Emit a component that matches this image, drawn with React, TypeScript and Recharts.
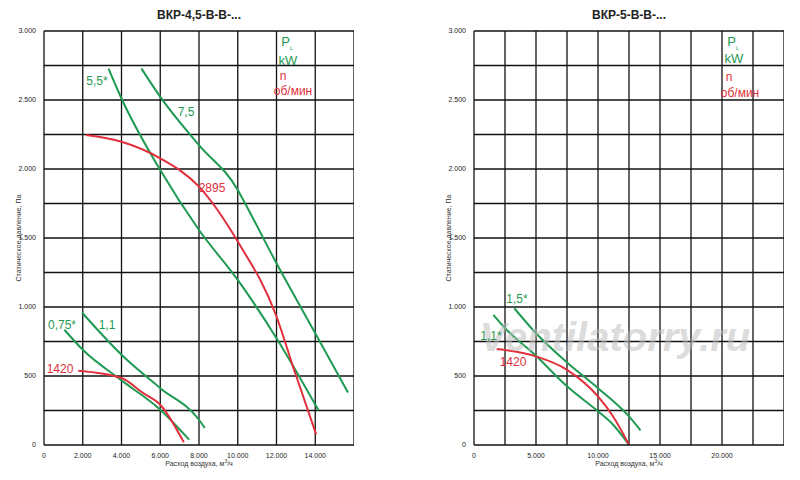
import { LineChart, Line, XAxis, YAxis, CartesianGrid } from "recharts";

const GREEN = "#1f9a52";
const RED = "#e0303c";

const yTicks = [0, 500, 1000, 1500, 2000, 2500, 3000];
const yGrid = [250, 500, 750, 1000, 1250, 1500, 1750, 2000, 2250, 2500, 2750];

// ВКР-4,5
const leftXTicks = [0, 2000, 4000, 6000, 8000, 10000, 12000, 14000];
const leftXGrid = [2000, 4000, 6000, 8000, 10000, 12000, 14000];
const kw55 = [
  { x: 3330, y: 2728 }, { x: 4000, y: 2511 }, { x: 6000, y: 1992 }, { x: 8000, y: 1558 },
  { x: 10000, y: 1196 }, { x: 12000, y: 774 }, { x: 14170, y: 251 },
];
const kw75 = [
  { x: 5030, y: 2728 }, { x: 6000, y: 2523 }, { x: 8000, y: 2173 }, { x: 10000, y: 1848 },
  { x: 10100, y: 1823 }, { x: 12000, y: 1317 }, { x: 14000, y: 810 }, { x: 15690, y: 381 },
];
const rpm2895 = [
  { x: 2160, y: 2246 }, { x: 4000, y: 2197 }, { x: 6000, y: 2077 }, { x: 8000, y: 1872 },
  { x: 10000, y: 1474 }, { x: 12000, y: 931 }, { x: 12850, y: 569 }, { x: 14050, y: 75 },
];
const kw075 = [
  { x: 1050, y: 835 }, { x: 2000, y: 690 }, { x: 4000, y: 468 }, { x: 6000, y: 256 }, { x: 7490, y: 39 },
];
const kw11 = [
  { x: 1960, y: 960 }, { x: 4000, y: 654 }, { x: 6000, y: 412 }, { x: 8000, y: 183 }, { x: 8300, y: 123 },
];
const rpm1420a = [
  { x: 1770, y: 538 }, { x: 4000, y: 485 }, { x: 5120, y: 376 }, { x: 6000, y: 292 }, { x: 7220, y: 19 },
];

// ВКР-5
const rightXTicks = [0, 5000, 10000, 15000, 20000];
const rightXGrid = [2500, 5000, 7500, 10000, 12500, 15000, 17500, 20000, 22500];
const kw15 = [
  { x: 3250, y: 991 }, { x: 5000, y: 810 }, { x: 7500, y: 598 }, { x: 10000, y: 412 },
  { x: 12500, y: 207 }, { x: 13430, y: 106 },
];
const kw11b = [
  { x: 1560, y: 943 }, { x: 2500, y: 847 }, { x: 5000, y: 646 }, { x: 7500, y: 425 },
  { x: 10000, y: 244 }, { x: 11220, y: 147 }, { x: 12500, y: 2 },
];
const rpm1420b = [
  { x: 1830, y: 695 }, { x: 5000, y: 642 }, { x: 7500, y: 545 }, { x: 10000, y: 352 },
  { x: 11220, y: 207 }, { x: 12500, y: 2 },
];

const fmt = (v: number) => (v >= 1000 ? (v / 1000).toFixed(3).replace(".", ".") : String(v));
const tickStyle = { fontSize: 7, fill: "#222", fontFamily: "Liberation Sans" };
const font = "Liberation Sans, Arial, sans-serif";

function Txt({ x, y, c, s = 12, t, b = false }: { x: number; y: number; c: string; s?: number; t: React.ReactNode; b?: boolean }) {
  return (
    <div style={{ position: "absolute", left: x, top: y, color: c, fontSize: s, fontFamily: font, fontWeight: b ? 700 : 400, whiteSpace: "nowrap", lineHeight: 1, transform: "translate(-50%,-50%)" }}>{t}</div>
  );
}

function Chart({ width, yw, xmax, xTicks, xGrid, series }: any) {
  return (
    <LineChart width={width} height={480} margin={{ top: 31, right: 6, left: 0, bottom: 0 }}>
      <CartesianGrid stroke="#111" strokeWidth={1.3} horizontalValues={yGrid} verticalValues={xGrid} />
      <XAxis type="number" dataKey="x" domain={[0, xmax]} ticks={xTicks} tickFormatter={fmt} tick={tickStyle}
        height={35} tickLine={false} stroke="#111" strokeWidth={1.3} interval={0} allowDataOverflow />
      <YAxis type="number" dataKey="y" domain={[0, 3000]} ticks={yTicks} tickFormatter={fmt} tick={tickStyle}
        width={yw} tickLine={false} stroke="#111" strokeWidth={1.3} interval={0} />
      <Line xAxisId={0} type="monotone" data={[{ x: xmax, y: 0 }, { x: xmax, y: 3000 }]} dataKey="y" stroke="#111" strokeWidth={1.3} dot={false} isAnimationActive={false} />
      <Line type="monotone" data={[{ x: 0, y: 3000 }, { x: xmax, y: 3000 }]} dataKey="y" stroke="#111" strokeWidth={1.3} dot={false} isAnimationActive={false} />
      {series.map((s: any, i: number) => (
        <Line key={i} type="monotone" data={s.data} dataKey="y" stroke={s.c} strokeWidth={2} dot={false} isAnimationActive={false} />
      ))}
    </LineChart>
  );
}

export default function App() {
  return (
    <div style={{ position: "fixed", left: 0, top: 0, width: 800, height: 480, background: "#fff", fontFamily: font }}>
      <div style={{ position: "absolute", left: 0, top: 0 }}>
        <Chart width={360} yw={44} xmax={16000} xTicks={leftXTicks} xGrid={leftXGrid}
          series={[
            { data: kw55, c: GREEN }, { data: kw75, c: GREEN }, { data: rpm2895, c: RED },
            { data: kw075, c: GREEN }, { data: kw11, c: GREEN }, { data: rpm1420a, c: RED },
          ]} />
      </div>
      <div style={{ position: "absolute", left: 400, top: 0 }}>
        <Chart width={390} yw={74} xmax={25000} xTicks={rightXTicks} xGrid={rightXGrid}
          series={[{ data: kw15, c: GREEN }, { data: kw11b, c: GREEN }, { data: rpm1420b, c: RED }]} />
      </div>

      <Txt x={199} y={15} c="#222" s={12} b t="ВКР-4,5-В-В-..." />
      <Txt x={629} y={15} c="#222" s={12} b t="ВКР-5-В-В-..." />
      <Txt x={199} y={463} c="#333" s={7} t={<span>Расход воздуха, м<sup style={{ fontSize: 5 }}>3</sup>/ч</span>} />
      <Txt x={629} y={463} c="#333" s={7} t={<span>Расход воздуха, м<sup style={{ fontSize: 5 }}>3</sup>/ч</span>} />
      <div style={{ position: "absolute", left: 18, top: 238, fontSize: 7, color: "#333", whiteSpace: "nowrap", transform: "translate(-50%,-50%) rotate(-90deg)" }}>Статическое давление, Па</div>
      <div style={{ position: "absolute", left: 448, top: 238, fontSize: 7, color: "#333", whiteSpace: "nowrap", transform: "translate(-50%,-50%) rotate(-90deg)" }}>Статическое давление, Па</div>

      <Txt x={97} y={81} c={GREEN} t="5,5*" />
      <Txt x={186} y={112} c={GREEN} t="7,5" />
      <Txt x={212} y={188} c={RED} t="2895" />
      <Txt x={62} y={325} c={GREEN} t="0,75*" />
      <Txt x={107} y={325} c={GREEN} t="1,1" />
      <Txt x={60} y={369} c={RED} t="1420" />
      <Txt x={287} y={43} c={GREEN} s={13} t={<span>P<sub style={{ fontSize: 5 }}>L</sub></span>} />
      <Txt x={288} y={60} c={GREEN} s={13} t="kW" />
      <Txt x={283} y={76} c={RED} t="n" />
      <Txt x={293} y={91} c={RED} t="об/мин" />

      <Txt x={615} y={337} c="rgba(190,190,190,0.55)" s={40} b t={<i>Ventilatorry.ru</i>} />
      <Txt x={517} y={299} c={GREEN} t="1,5*" />
      <Txt x={491} y={336} c={GREEN} t="1,1*" />
      <Txt x={513} y={362} c={RED} t="1420" />
      <Txt x={733} y={43} c={GREEN} s={13} t={<span>P<sub style={{ fontSize: 5 }}>L</sub></span>} />
      <Txt x={734} y={58} c={GREEN} s={13} t="kW" />
      <Txt x={729} y={77} c={RED} t="n" />
      <Txt x={740} y={93} c={RED} t="об/мин" />
    </div>
  );
}
